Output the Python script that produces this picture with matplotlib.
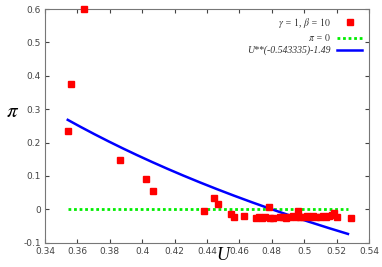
import numpy as np
from matplotlib import pyplot as plt

plt.rcParams['mathtext.fontset'] = 'stix'

# data points (gamma = 1, beta = 10)
u_pts = [0.3542, 0.356, 0.3643, 0.3863, 0.4022, 0.4065,
         0.4383, 0.4443, 0.4466, 0.4546, 0.4567, 0.4627,
         0.4700, 0.4720, 0.4740, 0.4758, 0.4785, 0.4790, 0.4810,
         0.4850, 0.4870, 0.4890, 0.4910, 0.4930, 0.4950, 0.4964,
         0.4975, 0.4995, 0.5015, 0.5035, 0.5055, 0.5075, 0.5095,
         0.5115, 0.5135, 0.5155, 0.5170, 0.5184, 0.5200, 0.5289]
pi_pts = [0.235, 0.375, 0.600, 0.149, 0.092, 0.055,
          -0.004, 0.034, 0.017, -0.015, -0.022, -0.019,
          -0.025, -0.024, -0.026, -0.023, 0.006, -0.025, -0.026,
          -0.024, -0.022, -0.025, -0.023, -0.021, -0.024, -0.005,
          -0.022, -0.024, -0.021, -0.023, -0.020, -0.024, -0.022,
          -0.020, -0.023, -0.021, -0.017, -0.012, -0.024, -0.025]

# fitted curve U**(-0.543335)-1.49
fit_exp = -0.543335
fit_const = 1.49
u_min, u_max = 0.354, 0.527

fig = plt.figure(figsize=(3.82, 2.67), dpi=100)
ax = fig.add_axes([0.118, 0.091, 0.848, 0.875])

u = np.linspace(u_min, u_max, 200)
ax.plot(u_pts, pi_pts, 's', color='#ff0000', ms=5, mec='#ff0000', clip_on=False,
        label=r'$\gamma$ = $\mathit{1}$, $\beta$ = $\mathit{10}$', zorder=3)
ax.plot([u_min, u_max], [0, 0], color='#00ee00', lw=2, ls=(0, (1, 1)),
        label=r'$\pi$ = $\mathit{0}$')
ax.plot(u, u ** fit_exp - fit_const, color='#0000ff', lw=1.8,
        label='U**(-0.543335)-1.49')

ax.set_xlim(0.34, 0.54)
ax.set_ylim(-0.1, 0.6)
ax.set_xticks(np.arange(0.34, 0.541, 0.02))
ax.set_xticklabels(['0.34', '0.36', '0.38', '0.4', '0.42', '0.44', '0.46',
                    '0.48', '0.5', '0.52', '0.54'])
ax.set_yticks(np.arange(-0.1, 0.61, 0.1))
ax.set_yticklabels(['-0.1', '0', '0.1', '0.2', '0.3', '0.4', '0.5', '0.6'])
ax.tick_params(direction='in', top=True, right=True, labelsize=6.5,
               colors='#444444', length=3, pad=3)
for s in ax.spines.values():
    s.set_color('#777777')

ax.set_xlabel('U', fontsize=13, family='Liberation Serif', style='italic')
ax.xaxis.set_label_coords(0.55, -0.02)
ax.set_ylabel(r'$\pi$', fontsize=15, rotation=0)
ax.yaxis.set_label_coords(-0.1, 0.52)

leg = ax.legend(loc='upper right', markerfirst=False, frameon=False,
                prop={'family': 'Liberation Serif', 'style': 'italic', 'size': 7},
                handlelength=2.6, borderaxespad=0.3, labelspacing=0.25,
                handletextpad=0.6)
for t in leg.get_texts():
    t.set_color('#333333')

figname = 'out.png'
plt.savefig(figname)
print('Plot saved as: ' + figname)
